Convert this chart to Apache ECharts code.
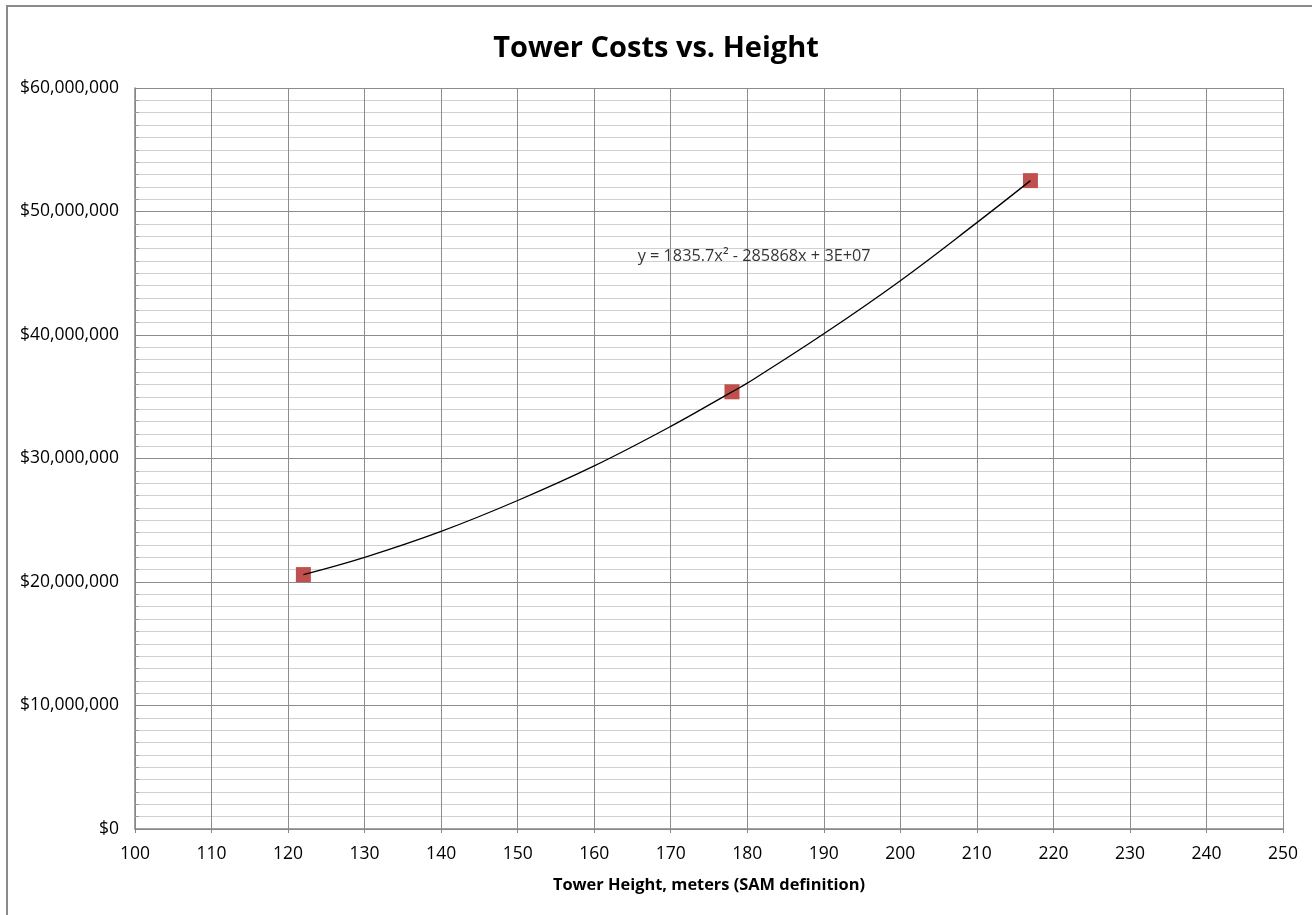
<!DOCTYPE html>
<html>
<head>
<meta charset="utf-8">
<script src="https://cdn.jsdelivr.net/npm/echarts@6/dist/echarts.min.js"></script>
<style>
html,body{margin:0;padding:0;background:#fff;}
#chart{width:1312px;height:915px;}
</style>
</head>
<body>
<div id="chart"></div>
<script>
// Data points: tower height (m) and cost ($)
const towerHeights = [122, 178, 217];
const towerCosts = [20600000, 35400000, 52500000];

// Polynomial trendline
const trendHeights = [122, 130, 140, 150, 160, 170, 178, 180, 190, 200, 210, 217];
const trendCosts = [20600000, 22000000, 24100000, 26600000, 29400000, 32600000, 35400000, 36100000, 40100000, 44400000, 49100000, 52500000];

const equationText = 'y = 1835.7x\u00B2 - 285868x + 3E+07';
const equationAt = [180.9, 46400000];

const xTicks = {min: 100, max: 250, interval: 10};
const yTicks = {min: 0, max: 60000000, interval: 10000000};

const FONT = '"Open Sans", Lato, sans-serif';

const chart = echarts.init(document.getElementById('chart'), null, {renderer: 'canvas'});

chart.setOption({
  animation: false,
  backgroundColor: '#ffffff',
  title: {
    text: 'Tower Costs vs. Height',
    left: 'center',
    top: 29,
    textStyle: {fontFamily: FONT, fontSize: 29, fontWeight: 'bold', color: '#000'}
  },
  graphic: [{
    type: 'rect',
    shape: {x: 7, y: 6, width: 1400, height: 1000},
    style: {fill: 'none', stroke: '#8a8a8a', lineWidth: 2},
    silent: true,
    z: -10
  }],
  grid: {left: 135, right: 29, top: 88, bottom: 86, containLabel: false},
  xAxis: {
    type: 'value',
    min: xTicks.min, max: xTicks.max, interval: xTicks.interval,
    name: 'Tower Height, meters (SAM definition)',
    nameLocation: 'middle',
    nameGap: 48,
    nameTextStyle: {fontFamily: FONT, fontSize: 16.4, fontWeight: 'bold', color: '#000'},
    axisLine: {show: true, lineStyle: {color: '#868686', width: 1.5}},
    axisTick: {show: true, length: 4, inside: false, lineStyle: {color: '#868686'}},
    axisLabel: {fontFamily: FONT, fontSize: 17.5, color: '#000', margin: 16},
    splitLine: {show: true, lineStyle: {color: '#8c8c8c', width: 1}}
  },
  yAxis: {
    type: 'value',
    min: yTicks.min, max: yTicks.max, interval: yTicks.interval,
    axisLine: {show: true, lineStyle: {color: '#868686', width: 1.5}},
    axisTick: {show: true, length: 4, inside: true, lineStyle: {color: '#868686'}},
    minorTick: {show: true, splitNumber: 10, length: 4, lineStyle: {color: '#9a9a9a'}},
    minorSplitLine: {show: true, lineStyle: {color: '#d0d0d0', width: 1.2}},
    splitLine: {show: true, lineStyle: {color: '#8c8c8c', width: 1}},
    axisLabel: {
      fontFamily: FONT, fontSize: 17.5, color: '#000', margin: 16,
      formatter: v => '$' + v.toLocaleString('en-US')
    }
  },
  series: [
    {
      type: 'scatter',
      name: 'Cost',
      symbol: 'rect',
      symbolSize: 15,
      itemStyle: {color: '#c0504d', opacity: 1},
      data: towerHeights.map((h, i) => [h, towerCosts[i]]),
      z: 3
    },
    {
      type: 'line',
      name: 'Trend',
      smooth: 0.4,
      showSymbol: false,
      symbol: 'none',
      lineStyle: {color: '#000', width: 1.3},
      data: trendHeights.map((h, i) => [h, trendCosts[i]]),
      z: 4
    },
    {
      type: 'scatter',
      name: 'Equation',
      symbolSize: 0,
      silent: true,
      data: [equationAt],
      label: {
        show: true,
        position: 'inside',
        formatter: equationText,
        fontFamily: FONT, fontSize: 16.3, color: '#000'
      },
      z: 5
    }
  ]
});
</script>
</body>
</html>
